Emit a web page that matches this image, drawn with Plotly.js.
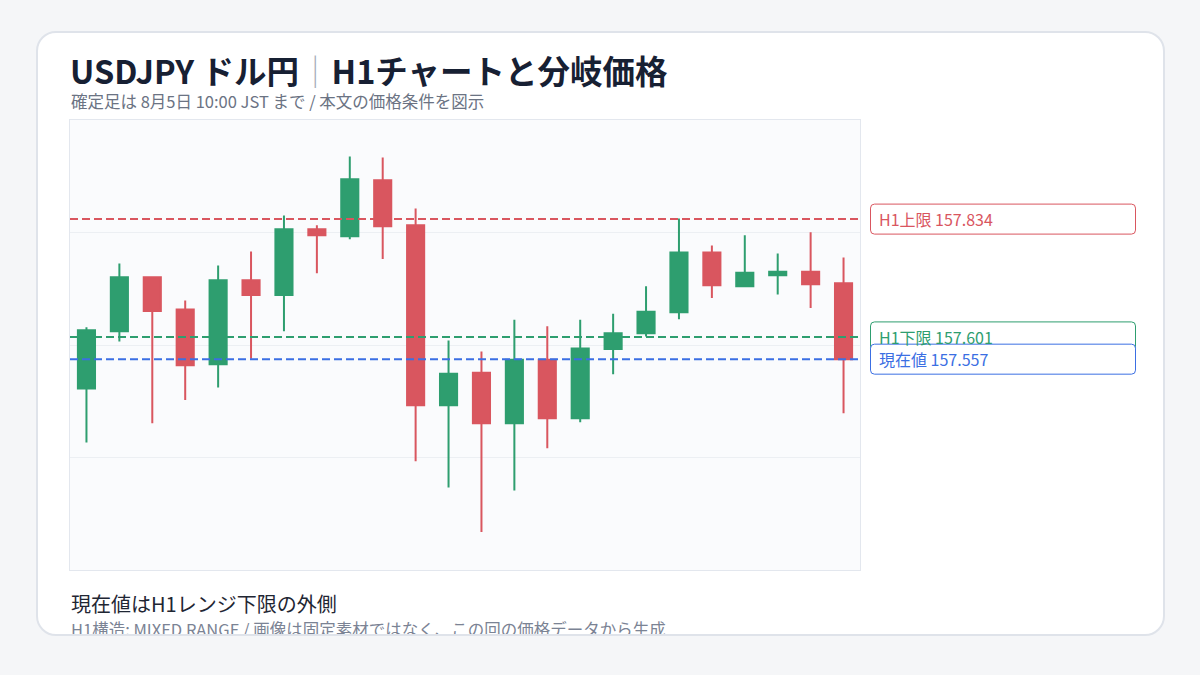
<!DOCTYPE html>
<html>
<head>
<meta charset="utf-8">
<script src="https://cdn.plot.ly/plotly-3.0.1.min.js"></script>
<style>
  html, body { margin: 0; padding: 0; background: #f5f6f8; }
  #card {
    position: absolute; left: 36px; top: 31px;
    width: 1129px; height: 605px; box-sizing: border-box;
    background: #ffffff; border: 2px solid #dfe3ea; border-radius: 20px;
    overflow: hidden;
  }
  #myDiv { position: absolute; left: -38px; top: -33px; width: 1200px; height: 675px; }
</style>
</head>
<body>
<div id="card"><div id="myDiv"></div></div>
<script>
// H1 candles, 8/4 10:00 -> 8/5 09:00 JST
var hours = ['08-04 10:00', '08-04 11:00', '08-04 12:00', '08-04 13:00', '08-04 14:00', '08-04 15:00',
             '08-04 16:00', '08-04 17:00', '08-04 18:00', '08-04 19:00', '08-04 20:00', '08-04 21:00',
             '08-04 22:00', '08-04 23:00', '08-05 00:00', '08-05 01:00', '08-05 02:00', '08-05 03:00',
             '08-05 04:00', '08-05 05:00', '08-05 06:00', '08-05 07:00', '08-05 08:00', '08-05 09:00'];
var open  = [157.499, 157.612, 157.719, 157.655, 157.547, 157.713, 157.684, 157.814, 157.800, 157.911, 157.822, 157.466,
             157.530, 157.430, 157.556, 157.440, 157.577, 157.608, 157.650, 157.768, 157.701, 157.723, 157.730, 157.707];
var high  = [157.620, 157.746, 157.721, 157.673, 157.742, 157.770, 157.841, 157.822, 157.958, 157.956, 157.855, 157.594,
             157.572, 157.635, 157.622, 157.635, 157.647, 157.701, 157.835, 157.782, 157.802, 157.766, 157.808, 157.758];
var low   = [157.392, 157.592, 157.430, 157.476, 157.501, 157.558, 157.612, 157.727, 157.794, 157.755, 157.355, 157.303,
             157.215, 157.297, 157.381, 157.432, 157.527, 157.602, 157.636, 157.678, 157.701, 157.685, 157.658, 157.450];
var close = [157.614, 157.719, 157.652, 157.545, 157.713, 157.684, 157.814, 157.802, 157.913, 157.820, 157.466, 157.528,
             157.430, 157.556, 157.440, 157.578, 157.608, 157.651, 157.768, 157.703, 157.728, 157.730, 157.705, 157.557];

var levelNames  = ['H1上限', 'H1下限', '現在値'];
var levelValues = [157.834, 157.601, 157.557];
var levelColors = ['#d9565f', '#2e9e6f', '#3b6fe3'];

var green = '#2e9e6f';
var red = '#d9565f';
var yRange = [157.14, 158.03];

// plot box in page pixels (margins below)
var L = 70, T = 120, W = 790, H = 450;
function px2x(px) { return (px - L) / W; }
function px2y(py) { return (T + H - py) / H; }
function val2py(v) { return T + (yRange[1] - v) / (yRange[1] - yRange[0]) * H; }

function roundBox(x0, y0, x1, y1, r) {
  // rounded rectangle path in paper coords, corners given in pixels
  var p = function (x, y) { return px2x(x) + ',' + px2y(y); };
  return 'M' + p(x0 + r, y0) + ' L' + p(x1 - r, y0) + ' Q' + p(x1, y0) + ' ' + p(x1, y0 + r) +
         ' L' + p(x1, y1 - r) + ' Q' + p(x1, y1) + ' ' + p(x1 - r, y1) +
         ' L' + p(x0 + r, y1) + ' Q' + p(x0, y1) + ' ' + p(x0, y1 - r) +
         ' L' + p(x0, y0 + r) + ' Q' + p(x0, y0) + ' ' + p(x0 + r, y0) + ' Z';
}

var trace = {
  type: 'candlestick',
  x: hours,
  open: open, high: high, low: low, close: close,
  increasing: { line: { color: green, width: 2 }, fillcolor: green },
  decreasing: { line: { color: red, width: 2 }, fillcolor: red },
  hoverinfo: 'skip',
  showlegend: false
};

var shapes = [];
var annotations = [];
levelValues.forEach(function (v, i) {
  shapes.push({
    type: 'line', xref: 'paper', x0: 0, x1: 1, yref: 'y', y0: v, y1: v,
    line: { color: levelColors[i], width: 2, dash: '8px,4px' }
  });
});
levelValues.forEach(function (v, i) {
  var cy = val2py(v);
  shapes.push({
    type: 'path', xref: 'paper', yref: 'paper',
    path: roundBox(870.5, cy - 15, 1135.5, cy + 15, 4),
    fillcolor: '#ffffff', line: { color: levelColors[i], width: 1 }
  });
  annotations.push({
    xref: 'paper', yref: 'y', x: px2x(877), y: v, xanchor: 'left', yanchor: 'middle',
    text: levelNames[i] + ' ' + v.toFixed(3), showarrow: false,
    font: { size: 16, color: levelColors[i] }
  });
});

annotations.push(
  { xref: 'paper', yref: 'paper', x: px2x(68), y: px2y(70), xanchor: 'left', yanchor: 'middle', showarrow: false,
    text: 'USDJPY ドル円<span style="color:#a3abb8;font-weight:300">｜</span>H1チャートと分岐価格',
    font: { size: 32.5, color: '#172033', weight: 700 } },
  { xref: 'paper', yref: 'paper', x: px2x(69), y: px2y(101), xanchor: 'left', yanchor: 'middle', showarrow: false,
    text: '確定足は 8月5日 10:00 JST まで / 本文の価格条件を図示',
    font: { size: 16.5, color: '#6b7383' } },
  { xref: 'paper', yref: 'paper', x: px2x(69), y: px2y(603), xanchor: 'left', yanchor: 'middle', showarrow: false,
    text: '現在値はH1レンジ下限の外側',
    font: { size: 20, color: '#1f2633' } },
  { xref: 'paper', yref: 'paper', x: px2x(69), y: px2y(629), xanchor: 'left', yanchor: 'middle', showarrow: false,
    text: 'H1構造: MIXED RANGE / 画像は固定素材ではなく、この回の価格データから生成',
    font: { size: 16.5, color: '#7b8394' } }
);

var q = (yRange[1] - yRange[0]) / 4;
var layout = {
  width: 1200, height: 675,
  margin: { l: L, r: 1200 - L - W, t: T, b: 675 - T - H, pad: 0 },
  paper_bgcolor: 'rgba(0,0,0,0)',
  plot_bgcolor: '#fafbfd',
  font: { family: '"Noto Sans CJK JP", "Noto Sans", sans-serif', color: '#1f2633' },
  showlegend: false,
  boxgap: 0.48, boxgroupgap: 0,
  xaxis: {
    type: 'category', range: [-0.5, hours.length - 0.5],
    rangeslider: { visible: false },
    showticklabels: false, ticks: '', showgrid: false, zeroline: false,
    showline: true, mirror: true, linecolor: '#e3e7ee', linewidth: 1
  },
  yaxis: {
    range: yRange,
    tickvals: [yRange[0] + q, yRange[0] + 2 * q, yRange[0] + 3 * q],
    showticklabels: false, ticks: '', gridcolor: '#eceff3', gridwidth: 1, zeroline: false,
    showline: true, mirror: true, linecolor: '#e3e7ee', linewidth: 1
  },
  shapes: shapes,
  annotations: annotations
};

Plotly.newPlot('myDiv', [trace], layout, { displayModeBar: false, staticPlot: true });
</script>
</body>
</html>
